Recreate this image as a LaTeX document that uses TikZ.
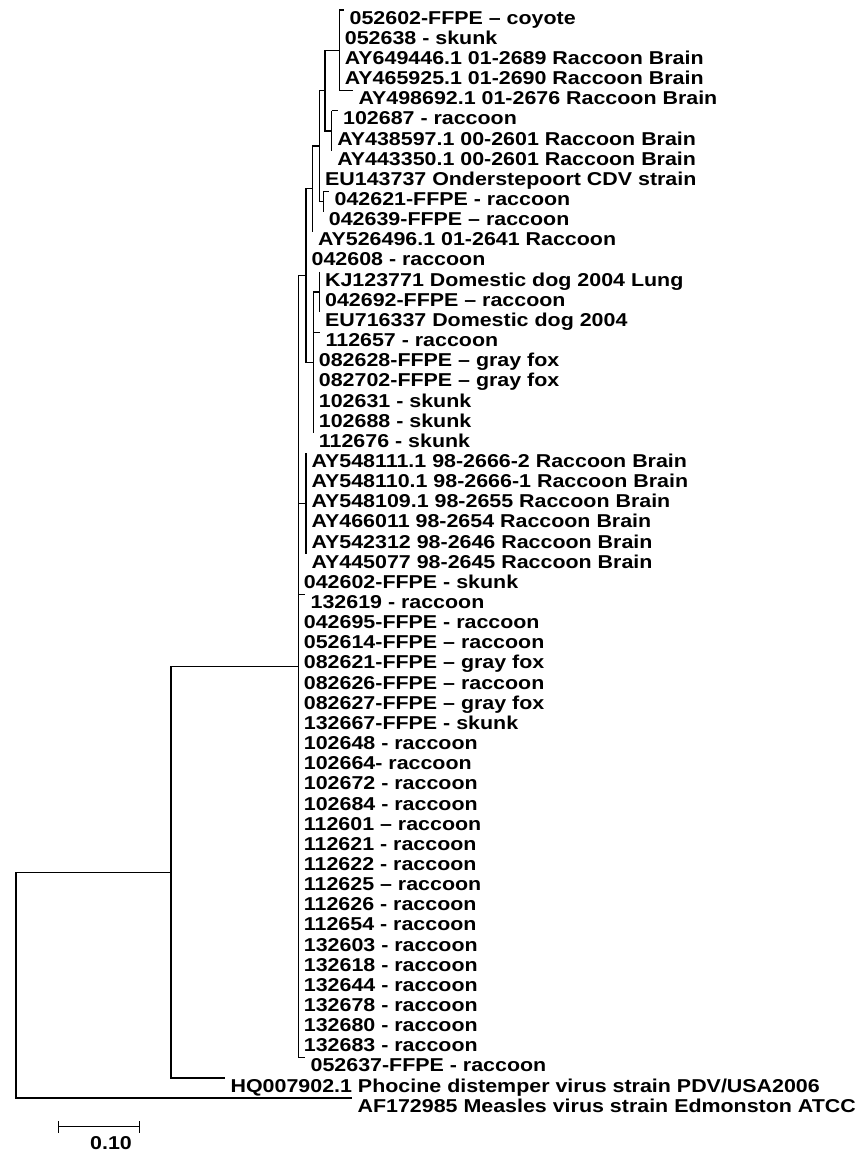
\documentclass[tikz,border=0pt]{standalone}
\usepackage{fontspec}
\setmainfont{Liberation Sans}[FakeStretch=1.15]
\usepackage{tikz}

\begin{document}
\begin{tikzpicture}[x=0.02cm,y=-0.02cm,
  branch/.style={draw=black,line width=0.7pt},
  leaf/.style={anchor=west,inner xsep=3pt,text height=16.1pt,text depth=0pt,
    font=\bfseries\fontsize{10.6}{12}\selectfont}]
\useasboundingbox (0,0) rectangle (861,1154);

% leaves: row / tip x / label
\foreach \r/\tx/\lab in {1/344/052602-FFPE – coyote,2/339.3/052638 - skunk,
  3/339.3/AY649446.1 01-2689 Raccoon Brain,4/339.3/AY465925.1 01-2690 Raccoon Brain,
  5/353/AY498692.1 01-2676 Raccoon Brain,6/337.5/102687 - raccoon,
  7/331.7/AY438597.1 00-2601 Raccoon Brain,8/331.7/AY443350.1 00-2601 Raccoon Brain,
  9/319.5/EU143737 Onderstepoort CDV strain,10/329/042621-FFPE - raccoon,
  11/323.3/042639-FFPE – raccoon,12/312.5/AY526496.1 01-2641 Raccoon,
  13/306/042608 - raccoon,14/319.5/KJ123771 Domestic dog 2004 Lung,
  15/319.5/042692-FFPE – raccoon,16/319.5/EU716337 Domestic dog 2004,
  17/320/112657 - raccoon,18/313.3/082628-FFPE – gray fox,
  19/313.3/082702-FFPE – gray fox,20/313.3/102631 - skunk,
  21/313.3/102688 - skunk,22/313.3/112676 - skunk,
  23/306/AY548111.1 98-2666-2 Raccoon Brain,24/306/AY548110.1 98-2666-1 Raccoon Brain,
  25/306/AY548109.1 98-2655 Raccoon Brain,26/306/AY466011 98-2654 Raccoon Brain,
  27/306/AY542312 98-2646 Raccoon Brain,28/306/AY445077 98-2645 Raccoon Brain,
  29/298.3/042602-FFPE - skunk,30/305/132619 - raccoon,
  31/298.3/042695-FFPE - raccoon,32/298.3/052614-FFPE – raccoon,
  33/298.3/082621-FFPE – gray fox,34/298.3/082626-FFPE – raccoon,
  35/298.3/082627-FFPE – gray fox,36/298.3/132667-FFPE - skunk,
  37/298.3/102648 - raccoon,38/298.3/102664- raccoon,39/298.3/102672 - raccoon,
  40/298.3/102684 - raccoon,41/298.3/112601 – raccoon,42/298.3/112621 - raccoon,
  43/298.3/112622 - raccoon,44/298.3/112625 – raccoon,45/298.3/112626 - raccoon,
  46/298.3/112654 - raccoon,47/298.3/132603 - raccoon,48/298.3/132618 - raccoon,
  49/298.3/132644 - raccoon,50/298.3/132678 - raccoon,51/298.3/132680 - raccoon,
  52/298.3/132683 - raccoon,53/305/052637-FFPE - raccoon}
  \node[leaf] (l\r) at (\tx,{10+(\r-1)*20.15}) {\lab};
\node[leaf] (l54) at (225,1077.95) {HQ007902.1 Phocine distemper virus strain PDV/USA2006};
\node[leaf] (l55) at (352,1098.1) {AF172985 Measles virus strain Edmonston ATCC};

% internal nodes
\coordinate (nA) at (339.3,50.3);
\coordinate (nC) at (331.7,130.9);
\coordinate (nB) at (325,90.6);
\coordinate (nE) at (323.3,201.43);
\coordinate (nD) at (319.5,146.01);
\coordinate (nF) at (312.5,188.83);
\coordinate (nI) at (319.5,292.1);
\coordinate (nK) at (313.3,362.63);
\coordinate (nG) at (306,275.73);
\coordinate (nM) at (306,503.68);
\coordinate (nR) at (298.3,666.77);
\coordinate (nP) at (171,872.36);
\coordinate (nO) at (16,985.23);

\draw[branch] (nA |- l1.west) -- (nA |- l5.west);
\draw[branch] (nA |- l1.west) -- (l1.west);
\draw[branch] (nA |- l5.west) -- (l5.west);
\draw[branch] (nC |- l6.west) -- (nC |- l8.west);
\draw[branch] (nC |- l6.west) -- (l6.west);
\draw[branch] (nA) -| (nB) |- (nC);
\draw[branch] (nE |- l10.west) -- (nE |- l11.west);
\draw[branch] (nE |- l10.west) -- (l10.west);
\draw[branch] (nB) -| (nD) |- (nE);
\draw[branch] (nD) -| (nF) |- (l12.west);
\draw[branch] (nI |- l14.west) -- (nI |- l16.west);
\draw[branch] (nI) -| (nK) |- (l22.west);
\draw[branch] (nK |- l17.west) -- (l17.west);
\draw[branch] (nF) -| (nG) |- (nK);
\draw[branch] (nM |- l23.west) -- (nM |- l28.west);
\draw[branch] (nG) -| (nR) |- (l53.west);
\draw[branch] (nR |- nM) -- (nM);
\draw[branch] (nR |- l30.west) -- (l30.west);
\draw[branch] (nR) -| (nP) |- (l54.west);
\draw[branch] (nP) -| (nO) |- (l55.west);

% scale bar
\coordinate (sbL) at (57.7,1126.7);
\coordinate (sbR) at (140,1126.7);
\draw[branch,|-|] (sbL) -- (sbR);
\node[font=\bfseries\fontsize{10.6}{12}\selectfont] (sbT) at (111,1143) {0.10};
\end{tikzpicture}
\end{document}
